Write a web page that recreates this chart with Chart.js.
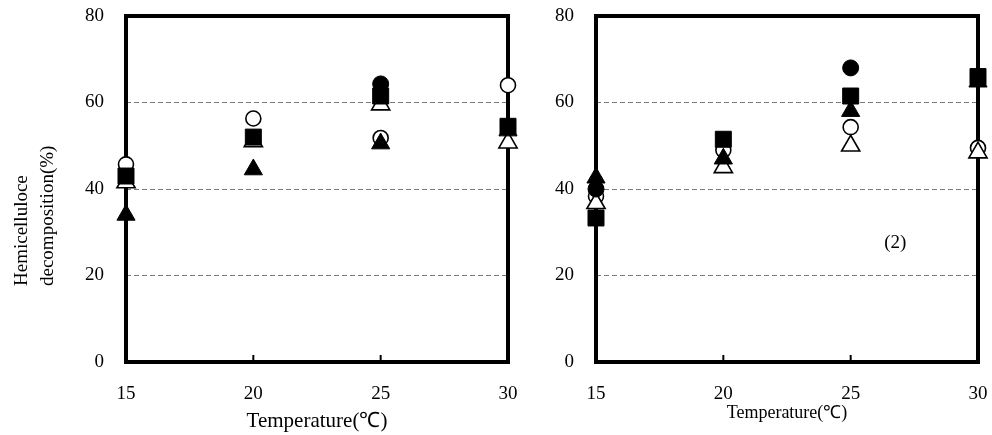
<!DOCTYPE html>
<html>
<head>
<meta charset="utf-8">
<script src="https://cdn.jsdelivr.net/npm/chart.js@4.4.1/dist/chart.umd.min.js"></script>
<style>
  html, body { margin: 0; padding: 0; background: #fff; }
  #wrap { position: relative; width: 992px; height: 435px; overflow: hidden; }
  canvas { position: absolute; top: 0; }
  #c1 { left: 0; }
  #c2 { left: 540px; }
</style>
</head>
<body>
<div id="wrap">
  <canvas id="c1" width="540" height="435"></canvas>
  <canvas id="c2" width="452" height="435"></canvas>
</div>
<script>
// Temperatures (°C) on the x axis and y tick values (%)
const temperatures = [15, 20, 25, 30];
const yTicks = [0, 20, 40, 60, 80];

// Panel 1: hemicellulose decomposition (%)
const p1FilledCircle   = [null, null, 64.3, null];
const p1FilledSquare   = [43.0, 52.0, 61.5, 54.5];
const p1FilledTriangle = [34.0, 44.5, 50.5, 53.5];
const p1OpenCircle     = [45.7, 56.3, 51.8, 64.0];
const p1OpenTriangle   = [41.5, 51.0, 59.5, 50.7];

// Panel 2: hemicellulose decomposition (%)
const p2FilledCircle   = [40.0, null, 68.0, null];
const p2FilledSquare   = [33.3, 51.5, 61.5, 66.0];
const p2FilledTriangle = [42.6, 47.0, 58.0, 64.8];
const p2OpenCircle     = [38.3, 49.0, 54.3, 49.5];
const p2OpenTriangle   = [36.7, 45.0, 50.0, 48.4];

const yTitleLines = ['Hemicelluloce', 'decomposition(%)'];
const xTitle = 'Temperature(\u2103)';
const panelTag = '(2)';

const SERIF = "'Liberation Serif', 'Times New Roman', serif";

function toPoints(values) {
  return temperatures.map((t, i) => ({ x: t, y: values[i] }));
}

// Marker styles; earlier datasets are painted on top
function makeDatasets(fc, fs, ft, oc, ot) {
  const base = { showLine: false, clip: false, borderColor: '#000' };
  return [
    Object.assign({}, base, { label: 'filled triangle', data: toPoints(ft), pointStyle: 'triangle', pointRadius: 10.5, backgroundColor: '#000', borderWidth: 1 }),
    Object.assign({}, base, { label: 'filled square', data: toPoints(fs), pointStyle: 'rect', pointRadius: 11.3, backgroundColor: '#000', borderWidth: 1 }),
    Object.assign({}, base, { label: 'filled circle', data: toPoints(fc), pointStyle: 'circle', pointRadius: 8, backgroundColor: '#000', borderWidth: 1 }),
    Object.assign({}, base, { label: 'open triangle', data: toPoints(ot), pointStyle: 'triangle', pointRadius: 10.5, backgroundColor: '#fff', borderWidth: 1.6 }),
    Object.assign({}, base, { label: 'open circle', data: toPoints(oc), pointStyle: 'circle', pointRadius: 7.5, backgroundColor: '#fff', borderWidth: 1.6 })
  ];
}

// Thick frame round the plot area plus small inward ticks on the x axis
const framePlugin = {
  id: 'frame',
  beforeDatasetsDraw(chart) {
    const { ctx, chartArea: a, scales: { x } } = chart;
    ctx.save();
    ctx.strokeStyle = '#000';
    ctx.lineWidth = 2;
    temperatures.forEach(t => {
      const px = x.getPixelForValue(t);
      ctx.beginPath();
      ctx.moveTo(px, a.bottom);
      ctx.lineTo(px, a.bottom - 7);
      ctx.stroke();
    });
    ctx.lineWidth = 4;
    ctx.strokeRect(a.left, a.top, a.right - a.left, a.bottom - a.top);
    ctx.restore();
  }
};

// Two-line rotated y-axis title for the first panel
const yTitlePlugin = {
  id: 'yTitle',
  afterDraw(chart) {
    const { ctx } = chart;
    ctx.save();
    ctx.fillStyle = '#000';
    ctx.font = '19px ' + SERIF;
    ctx.textAlign = 'left';
    ctx.textBaseline = 'alphabetic';
    const baselines = [27, 53];
    yTitleLines.forEach((line, i) => {
      ctx.save();
      ctx.translate(baselines[i], 286);
      ctx.rotate(-Math.PI / 2);
      ctx.fillText(line, 0, 0);
      ctx.restore();
    });
    ctx.restore();
  }
};

// Panel tag written at a data position
const tagPlugin = {
  id: 'tag',
  afterDatasetsDraw(chart) {
    const { ctx, scales: { x, y } } = chart;
    ctx.save();
    ctx.fillStyle = '#000';
    ctx.font = '19px ' + SERIF;
    ctx.textAlign = 'center';
    ctx.textBaseline = 'middle';
    ctx.fillText(panelTag, x.getPixelForValue(26.75), y.getPixelForValue(27.5));
    ctx.restore();
  }
};

function makeOptions(yAxisWidth, rightPad, titleSize, titlePadBottom) {
  return {
    responsive: false,
    animation: false,
    events: [],
    layout: { autoPadding: false, padding: { left: 0, top: 16, right: rightPad, bottom: 0 } },
    plugins: { legend: { display: false }, tooltip: { enabled: false } },
    scales: {
      x: {
        type: 'linear',
        min: temperatures[0],
        max: temperatures[temperatures.length - 1],
        afterBuildTicks: s => { s.ticks = temperatures.map(v => ({ value: v })); },
        afterFit: s => { s.height = 73; s.paddingLeft = 0; s.paddingRight = 0; },
        grid: { display: false, drawTicks: false },
        border: { display: false },
        ticks: { color: '#000', font: { family: SERIF, size: 19 }, padding: 21, maxRotation: 0, autoSkip: false },
        title: {
          display: true,
          text: xTitle,
          color: '#000',
          font: { family: SERIF, size: titleSize },
          padding: { top: 0, bottom: titlePadBottom }
        }
      },
      y: {
        type: 'linear',
        min: yTicks[0],
        max: yTicks[yTicks.length - 1],
        afterBuildTicks: s => { s.ticks = yTicks.map(v => ({ value: v })); },
        afterFit: s => { s.width = yAxisWidth; s.paddingTop = 0; s.paddingBottom = 0; },
        grid: {
          drawTicks: false,
          lineWidth: 1,
          color: c => (c.tick && c.tick.value > yTicks[0] && c.tick.value < yTicks[yTicks.length - 1]) ? '#7a7a7a' : 'rgba(0,0,0,0)'
        },
        border: { display: false, dash: [5, 3] },
        ticks: { color: '#000', font: { family: SERIF, size: 19 }, padding: 22 }
      }
    }
  };
}

new Chart(document.getElementById('c1'), {
  type: 'scatter',
  data: { datasets: makeDatasets(p1FilledCircle, p1FilledSquare, p1FilledTriangle, p1OpenCircle, p1OpenTriangle) },
  options: makeOptions(126, 32, 21, 1),
  plugins: [framePlugin, yTitlePlugin]
});

new Chart(document.getElementById('c2'), {
  type: 'scatter',
  data: { datasets: makeDatasets(p2FilledCircle, p2FilledSquare, p2FilledTriangle, p2OpenCircle, p2OpenTriangle) },
  options: makeOptions(56, 14, 18, 11),
  plugins: [framePlugin, tagPlugin]
});
</script>
</body>
</html>
